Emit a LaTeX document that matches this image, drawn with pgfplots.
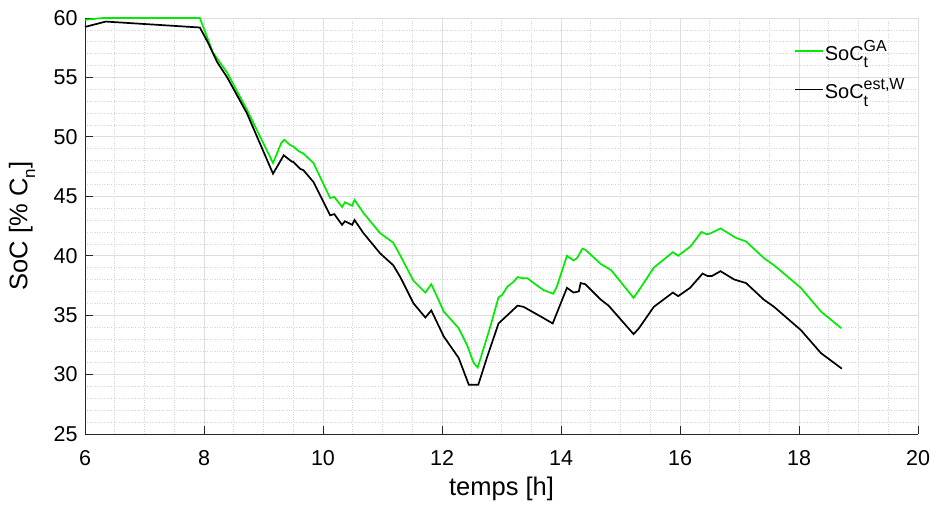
\documentclass[border=0pt]{standalone}
\usepackage{pgfplots}
\pgfplotsset{compat=1.18}
\usepackage{fontspec}
\setmainfont{Liberation Sans}
\definecolor{socga}{RGB}{0,235,0}
\definecolor{axcol}{RGB}{38,38,38}
\definecolor{gridmaj}{RGB}{222,222,222}
\definecolor{gridmin}{RGB}{212,212,212}
\newcommand{\smallfs}{\fontsize{16}{16}\selectfont}
\newcommand{\SoCt}[1]{SoC\rlap{\raisebox{-0.38em}{\smallfs t}}\raisebox{0.45em}{\smallfs #1}}
\pgfplotstableread{
x y
6.00 59.85
6.30 60.00
7.93 60.00
8.15 57.10
8.39 55.40
8.72 52.30
9.16 47.80
9.30 49.50
9.35 49.75
9.45 49.30
9.50 49.20
9.59 48.80
9.67 48.60
9.84 47.80
10.12 44.85
10.19 44.95
10.32 44.10
10.37 44.50
10.49 44.20
10.53 44.70
10.68 43.60
10.96 41.90
11.18 41.10
11.30 40.00
11.52 37.90
11.72 36.90
11.82 37.60
11.94 36.30
12.03 35.30
12.28 33.90
12.42 32.50
12.53 31.00
12.60 30.60
12.81 34.00
12.95 36.50
13.01 36.70
13.10 37.40
13.20 37.80
13.27 38.20
13.37 38.10
13.44 38.10
13.54 37.70
13.71 37.10
13.87 36.80
13.93 37.40
14.10 40.00
14.21 39.60
14.27 39.80
14.36 40.60
14.41 40.50
14.67 39.30
14.84 38.80
15.22 36.45
15.31 37.10
15.56 39.00
15.88 40.30
15.97 40.00
16.18 40.80
16.36 42.00
16.45 41.80
16.52 41.90
16.68 42.30
16.94 41.50
17.11 41.20
17.41 39.80
17.58 39.20
18.03 37.30
18.37 35.30
18.71 33.90
}\ga
\pgfplotstableread{
x y
6.00 59.25
6.35 59.70
7.93 59.20
8.07 57.90
8.22 56.30
8.39 55.00
8.72 52.00
9.16 46.90
9.34 48.45
9.48 47.90
9.50 47.90
9.62 47.30
9.67 47.20
9.84 46.20
10.12 43.40
10.19 43.50
10.32 42.60
10.37 42.90
10.49 42.60
10.53 43.00
10.68 41.90
10.96 40.20
11.18 39.20
11.30 38.20
11.52 36.00
11.72 34.80
11.82 35.40
12.03 33.20
12.28 31.40
12.45 29.15
12.61 29.15
12.76 31.50
12.95 34.30
13.10 35.00
13.27 35.80
13.37 35.70
13.69 34.80
13.86 34.30
14.10 37.30
14.21 36.90
14.30 37.00
14.33 37.70
14.41 37.60
14.67 36.30
14.80 35.80
15.22 33.40
15.31 33.90
15.56 35.70
15.88 36.90
15.97 36.60
16.17 37.30
16.38 38.50
16.46 38.30
16.54 38.30
16.68 38.70
16.91 38.00
17.11 37.70
17.41 36.30
17.58 35.70
18.03 33.75
18.37 31.80
18.72 30.50
}\est
\begin{document}
\begin{tikzpicture}
\path[use as bounding box] (-85pt,-70pt) rectangle (848pt,434pt);
\begin{axis}[
  at={(0,0)}, anchor=south west,
  scale only axis, width=833pt, height=416pt,
  xmin=6, xmax=20, ymin=25, ymax=60,
  xtick={6,8,...,20}, ytick={25,30,...,60},
  minor x tick num=3, minor y tick num=4,
  minor tick length=0pt, major tick length=8pt,
  tick align=inside,
  axis lines*=left,
  axis line style={-, color=axcol, line width=0.8pt},
  tick style={color=axcol, line width=0.8pt},
  grid=both,
  major grid style={color=gridmaj, line width=0.8pt},
  minor grid style={color=gridmin, line width=0.6pt, dash pattern=on 0.6pt off 1.8pt},
  /pgf/number format/assume math mode=true,
  tick label style={font=\fontsize{21.5}{25}\selectfont, color=black},
  xticklabel style={yshift=-13pt},
  yticklabel style={xshift=-4pt},
  xlabel={temps [h]},
  ylabel={SoC [\% C\raisebox{-0.3em}{\fontsize{17}{17}\selectfont n}]},
  label style={font=\fontsize{25.5}{30}\selectfont},
  xlabel style={at={(axis description cs:0.5,-0.132)}, anchor=center},
  ylabel style={at={(axis description cs:-0.0756,0.5)}, anchor=center},
  legend style={draw=none, fill=none, at={(axis description cs:0.851,0.95)}, anchor=north west,
    font=\fontsize{20}{24}\selectfont, row sep=15pt, inner sep=0pt,
    nodes={inner sep=1pt}},
  legend cell align=left,
  legend image code/.code={\draw[#1] (0pt,0pt) -- (28pt,0pt);},
  clip=false,
]
\addplot[socga, line width=1.7pt] table[x=x,y=y]{\ga};
\addlegendentry{\SoCt{GA}}
\addplot[black, line width=1.7pt] table[x=x,y=y]{\est};
\addlegendentry{\SoCt{est,W}}
\end{axis}
\end{tikzpicture}
\end{document}
